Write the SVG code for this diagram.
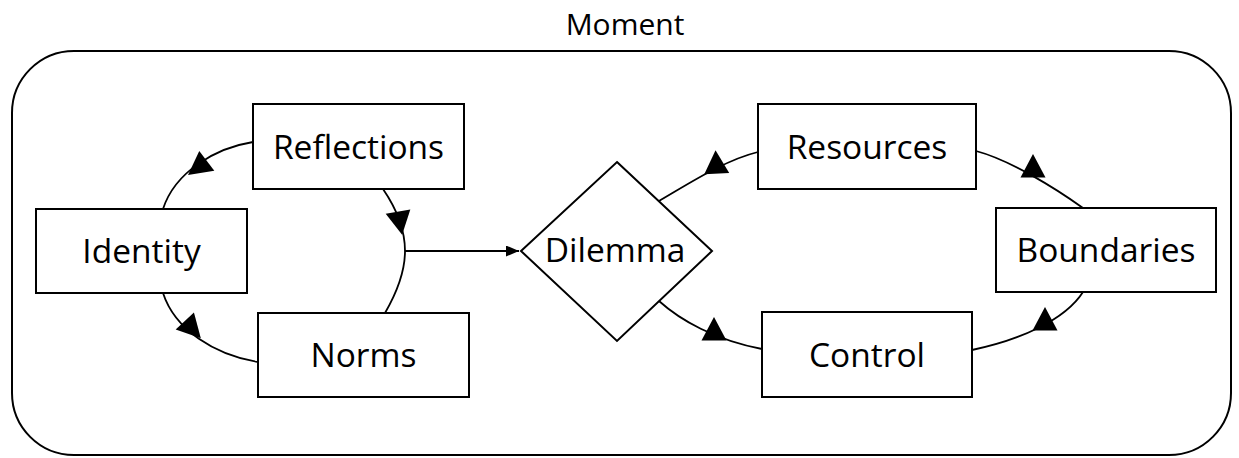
<svg xmlns="http://www.w3.org/2000/svg" width="1239" height="458" viewBox="0 0 1239 458">
<style>
  .box { fill: #ffffff; stroke: #000000; stroke-width: 2; }
  .frame { fill: none; stroke: #000000; stroke-width: 2; }
  .lbl { font-family: "Open Sans", "Liberation Sans", sans-serif; font-size: 33.5px; fill: #000000; text-anchor: middle; }
  .title { font-family: "Open Sans", "Liberation Sans", sans-serif; font-size: 30px; fill: #000000; text-anchor: middle; }
  .arc { fill: none; stroke: #000000; stroke-width: 1.8; }
  .line { fill: none; stroke: #000000; stroke-width: 2; }
  .head { fill: #000000; stroke: none; }
</style>
<defs>
  <path id="tri" d="M0,-15 L12.5,8.5 L-12.5,8.5 Z"/>
  <marker id="arrow" viewBox="0 0 13 11" refX="13" refY="5.5" markerWidth="13" markerHeight="11" markerUnits="userSpaceOnUse" orient="auto">
    <path d="M0,0 L13,5.5 L0,11 Z" fill="#000000"/>
  </marker>
</defs>

<g id="moment">
  <rect class="frame" x="12" y="51" width="1219" height="404" rx="62" ry="62"/>
  <text class="title" x="625" y="35">Moment</text>
</g>

<g id="connectors">
  <path class="arc" d="M253,142 C215,148 175,172 163,209"/>
  <path class="arc" d="M383,189 C396,208 405,230 405,251 C405,272 396,294 385,313"/>
  <path class="arc" d="M163,293 C175,330 215,355 258,362"/>
  <path class="line" d="M405,251 L519,251" marker-end="url(#arrow)"/>
  <path class="arc" d="M659,201 C690,183 725,160 758,152"/>
  <path class="arc" d="M976,151 C1010,160 1055,188 1083,208"/>
  <path class="arc" d="M1083,292 C1065,320 1020,340 972,350"/>
  <path class="arc" d="M659,301 C680,320 715,340 762,349"/>
  <use href="#tri" class="head" transform="translate(200,166) rotate(-127)"/>
  <use href="#tri" class="head" transform="translate(399.5,220) rotate(170)"/>
  <use href="#tri" class="head" transform="translate(190.6,327.3) rotate(137)"/>
  <use href="#tri" class="head" transform="translate(716.3,165.2) rotate(-3)"/>
  <use href="#tri" class="head" transform="translate(1033,169)"/>
  <use href="#tri" class="head" transform="translate(1045,322)"/>
  <use href="#tri" class="head" transform="translate(714,332)"/>
</g>

<g id="reflections">
  <rect class="box" x="253" y="104" width="211" height="85"/>
  <text class="lbl" x="358.5" y="159">Reflections</text>
</g>
<g id="identity">
  <rect class="box" x="36" y="209" width="211" height="84"/>
  <text class="lbl" x="141.5" y="263">Identity</text>
</g>
<g id="norms">
  <rect class="box" x="258" y="313" width="211" height="84"/>
  <text class="lbl" x="363.5" y="367">Norms</text>
</g>
<g id="dilemma">
  <polygon class="box" points="617,162 712,251 617,341 521,251"/>
  <text class="lbl" x="615" y="262">Dilemma</text>
</g>
<g id="resources">
  <rect class="box" x="758" y="104" width="218" height="85"/>
  <text class="lbl" x="867" y="159">Resources</text>
</g>
<g id="boundaries">
  <rect class="box" x="996" y="208" width="220" height="84"/>
  <text class="lbl" x="1106" y="262">Boundaries</text>
</g>
<g id="control">
  <rect class="box" x="762" y="312" width="210" height="85"/>
  <text class="lbl" x="867" y="367">Control</text>
</g>
</svg>
